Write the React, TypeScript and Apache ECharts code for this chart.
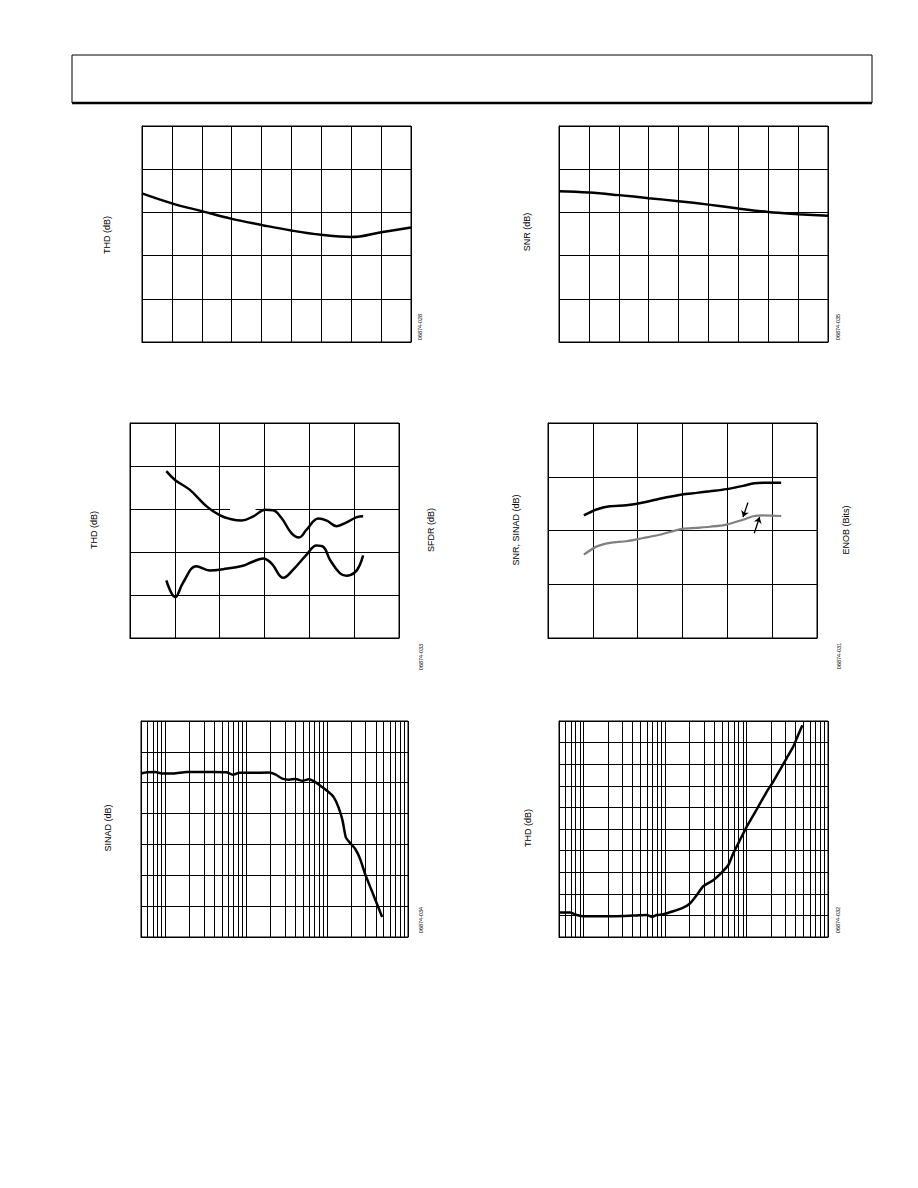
import React, { useEffect, useRef } from "react";
import * as echarts from "echarts";

// ---------- data (grid units; the reference has no tick labels) ----------
const topLeftX = [0, 1, 2, 3, 4, 5, 6, 7, 8, 9];
const topLeftTHD = [3.44, 3.21, 3.03, 2.85, 2.71, 2.58, 2.48, 2.43, 2.54, 2.65];

const topRightX = [0, 1, 2, 3, 4, 5, 6, 7, 8, 9];
const topRightSNR = [3.49, 3.46, 3.4, 3.33, 3.26, 3.18, 3.09, 3.01, 2.96, 2.92];

const midLeftUpperX = [0.81, 1.01, 1.33, 1.71, 2.01, 2.23, 2.49, 2.75, 3.02, 3.19, 3.38, 3.6, 3.77, 3.94, 4.2, 4.39, 4.61, 4.83, 5.06, 5.2];
const midLeftUpperY = [3.88, 3.67, 3.45, 3.06, 2.85, 2.77, 2.73, 2.83, 2.98, 2.97, 2.79, 2.44, 2.34, 2.52, 2.78, 2.73, 2.6, 2.69, 2.81, 2.83];
const midLeftLowerX = [0.81, 1.01, 1.18, 1.48, 1.78, 2.08, 2.52, 2.75, 2.97, 3.16, 3.42, 3.64, 3.94, 4.16, 4.31, 4.46, 4.68, 4.83, 5.02, 5.13, 5.2];
const midLeftLowerY = [1.34, 0.95, 1.28, 1.67, 1.57, 1.6, 1.68, 1.78, 1.85, 1.73, 1.4, 1.59, 1.94, 2.15, 2.12, 1.82, 1.51, 1.45, 1.53, 1.71, 1.92];

const midRightX = [0.8, 1.08, 1.38, 1.75, 2.12, 2.49, 2.99, 3.31, 3.61, 3.98, 4.35, 4.6, 4.8, 5.2];
const midRightSNR = [2.28, 2.39, 2.45, 2.47, 2.52, 2.59, 2.67, 2.7, 2.73, 2.77, 2.83, 2.88, 2.89, 2.89];
const midRightSINAD = [1.55, 1.7, 1.77, 1.8, 1.86, 1.92, 2.03, 2.05, 2.07, 2.11, 2.2, 2.27, 2.28, 2.27];

const botLeftFreq = [0.5, 0.592, 0.748, 0.904, 1.256, 1.83, 2.93, 3.88, 5.66, 6.83, 8.24, 12.0, 19.2, 23.2, 28.0, 33.8, 40.8, 49.2, 59.4, 71.6, 86.5, 104, 120, 138, 155, 170, 192, 222, 255, 294, 355, 428, 479];
const botLeftSINAD = [5.3, 5.34, 5.35, 5.3, 5.3, 5.35, 5.35, 5.35, 5.34, 5.26, 5.32, 5.32, 5.33, 5.26, 5.13, 5.1, 5.12, 5.06, 5.11, 5.02, 4.86, 4.7, 4.54, 4.21, 3.78, 3.24, 3.05, 2.86, 2.54, 2.05, 1.51, 0.97, 0.65];

const botRightFreq = [0.5, 0.687, 0.83, 1.0, 1.46, 2.12, 3.09, 4.5, 5.97, 6.87, 7.91, 9.53, 12.6, 16.7, 20.2, 24.4, 29.4, 39.0, 47.1, 59.6, 68.6, 82.8, 100, 121, 146, 176, 212, 256, 309, 373, 429, 485];
const botRightTHD = [1.14, 1.13, 1.02, 0.96, 0.96, 0.96, 0.97, 1.0, 1.02, 0.93, 1.02, 1.05, 1.19, 1.36, 1.55, 1.93, 2.35, 2.63, 2.9, 3.32, 3.86, 4.48, 5.09, 5.63, 6.17, 6.71, 7.18, 7.72, 8.26, 8.8, 9.34, 9.8];

// log-axis grid positions (mantissas x decades)
const logMantissas = [1, 2, 3, 4, 5, 6, 7, 8, 9];
const logDecades = [0.1, 1, 10, 100];
const logMin = 0.5;
const logMax = 1000;

// annotation arrows in chart 4 (grid units)
const arrowA = [[4.46, 2.52], [4.35, 2.25]];
const arrowB = [[4.6, 1.95], [4.72, 2.25]];
// gap in the middle gridline of chart 3
const gapSeg = [[2.23, 3], [2.8, 3]];

const titles = [
  { text: "THD (dB)", x: 107, y: 235 },
  { text: "SNR (dB)", x: 527, y: 232 },
  { text: "THD (dB)", x: 94, y: 530 },
  { text: "SFDR (dB)", x: 431, y: 530 },
  { text: "SNR, SINAD (dB)", x: 516, y: 530 },
  { text: "ENOB (Bits)", x: 846, y: 530 },
  { text: "SINAD (dB)", x: 108, y: 828 },
  { text: "THD (dB)", x: 528, y: 828 },
];
const codes = [
  { text: "06874-028", x: 420, y: 327 },
  { text: "06874-035", x: 838, y: 327 },
  { text: "06874-033", x: 421, y: 657 },
  { text: "06874-031", x: 839, y: 656 },
  { text: "06874-034", x: 421, y: 920 },
  { text: "06874-032", x: 838, y: 920 },
];

const zip = (xs: number[], ys: number[]) => xs.map((x, i) => [x, ys[i]]);

export default function App() {
  const ref = useRef<HTMLDivElement>(null);
  useEffect(() => {
    if (!ref.current) return;
    const chart = echarts.init(ref.current, undefined, { renderer: "svg" });
    const black = "#000";
    const grids = [
      { left: 142, top: 126, width: 269, height: 216 },
      { left: 559, top: 126, width: 269, height: 216 },
      { left: 130, top: 423, width: 269, height: 215 },
      { left: 548, top: 423, width: 269, height: 215 },
      { left: 141, top: 721, width: 267, height: 216 },
      { left: 559, top: 721, width: 269, height: 216 },
    ].map((g) => ({ ...g, show: true, borderColor: black, borderWidth: 1, backgroundColor: "transparent" }));

    const lin = (gi: number, max: number) => ({
      type: "value",
      gridIndex: gi,
      min: 0,
      max,
      interval: 1,
      axisLabel: { show: false },
      axisTick: { show: false },
      axisLine: { show: true, lineStyle: { color: black, width: 1 } },
      splitLine: { show: true, lineStyle: { color: black, width: 1 } },
    });
    const logAx = (gi: number) => ({
      type: "log",
      logBase: 10,
      gridIndex: gi,
      min: logMin,
      max: logMax,
      axisLabel: { show: false },
      axisTick: { show: false },
      axisLine: { show: true, lineStyle: { color: black, width: 1 } },
      splitLine: { show: false },
    });

    const logLines: number[] = [];
    logDecades.forEach((d) =>
      logMantissas.forEach((m) => {
        const v = +(m * d).toPrecision(3);
        if (v >= logMin && v <= logMax) logLines.push(v);
      })
    );
    logLines.push(logMax);

    const gridMark = {
      silent: true,
      symbol: "none",
      z: 1,
      label: { show: false },
      lineStyle: { color: black, width: 1, type: "solid" },
      emphasis: { disabled: true },
      data: logLines.map((v) => ({ xAxis: v })),
    };

    const line = (gi: number, data: number[][], color = black, width = 2.5, smooth: number | boolean = 0.3) => ({
      type: "line",
      xAxisIndex: gi,
      yAxisIndex: gi,
      data,
      smooth,
      symbol: "none",
      z: 3,
      lineStyle: { color, width },
      emphasis: { disabled: true },
    });

    const textStyle = (text: string, size: number) => ({
      text,
      font: `${size}px "Liberation Sans", Arial, sans-serif`,
      fill: black,
      align: "center",
      verticalAlign: "middle",
      textAlign: "center",
      textVerticalAlign: "middle",
    });

    const option: any = {
      animation: false,
      backgroundColor: "#fff",
      grid: grids,
      xAxis: [lin(0, 9), lin(1, 9), lin(2, 6), lin(3, 6), logAx(4), logAx(5)],
      yAxis: [lin(0, 5), lin(1, 5), lin(2, 5), lin(3, 4), lin(4, 7), lin(5, 10)],
      series: [
        line(0, zip(topLeftX, topLeftTHD), black, 2.5, 0.4),
        line(1, zip(topRightX, topRightSNR), black, 2.5, 0.4),
        {
          ...line(2, zip(midLeftUpperX, midLeftUpperY), black, 2.5, 0.4),
        },
        {
          ...line(2, zip(midLeftLowerX, midLeftLowerY), black, 2.5, 0.4),
          markLine: {
            silent: true,
            symbol: "none",
            z: 2,
            label: { show: false },
            lineStyle: { color: "#fff", width: 4, type: "solid" },
            data: [[{ coord: gapSeg[0] }, { coord: gapSeg[1] }]],
          },
        },
        line(3, zip(midRightX, midRightSNR), black, 2.5, 0.3),
        {
          ...line(3, zip(midRightX, midRightSINAD), "#808080", 2.2, 0.3),
          markLine: {
            silent: true,
            symbol: ["none", "arrow"],
            symbolSize: 6,
            z: 4,
            label: { show: false },
            lineStyle: { color: black, width: 1.3, type: "solid" },
            data: [
              [{ coord: arrowA[0] }, { coord: arrowA[1] }],
              [{ coord: arrowB[0] }, { coord: arrowB[1] }],
            ],
          },
        },
        { ...line(4, zip(botLeftFreq, botLeftSINAD), black, 2.5, 0.2), markLine: gridMark },
        { ...line(5, zip(botRightFreq, botRightTHD), black, 2.5, 0.2), markLine: gridMark },
      ],
      graphic: [
        {
          type: "rect",
          shape: { x: 72, y: 55, width: 800, height: 48 },
          style: { fill: "none", stroke: black, lineWidth: 1 },
        },
        {
          type: "line",
          shape: { x1: 72, y1: 103, x2: 872, y2: 103 },
          style: { stroke: black, lineWidth: 2.5 },
        },
        ...titles.map((t) => ({
          type: "text",
          x: t.x,
          y: t.y,
          rotation: Math.PI / 2,
          style: textStyle(t.text, 9),
        })),
        ...codes.map((t) => ({
          type: "text",
          x: t.x,
          y: t.y,
          rotation: Math.PI / 2,
          style: textStyle(t.text, 5.5),
        })),
      ],
    };
    chart.setOption(option);
    return () => chart.dispose();
  }, []);
  return <div ref={ref} style={{ position: "absolute", left: 0, top: 0, width: 918, height: 1188 }} />;
}
